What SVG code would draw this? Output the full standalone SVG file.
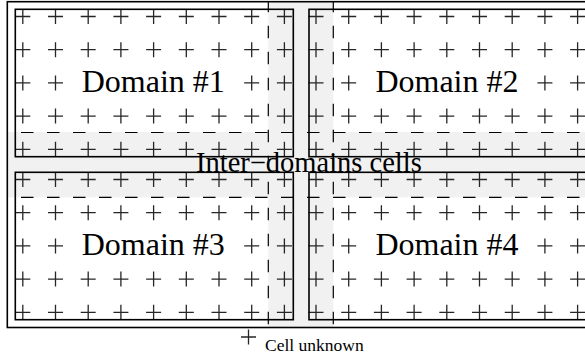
<svg xmlns="http://www.w3.org/2000/svg" xmlns:xlink="http://www.w3.org/1999/xlink" width="585" height="356" viewBox="0 0 585 356">
<style>
.band{fill:#f1f1f1;stroke:none}
.dash{stroke:#000;stroke-width:1.2;stroke-dasharray:12.5 13.5;fill:none}
.cr{stroke:#262626;stroke-width:1.3;fill:none}
.dom{fill:none;stroke:#000;stroke-width:1.6}
.big{font-family:"Liberation Serif","Times New Roman",serif;font-size:32px;fill:#000}
.mid{font-family:"Liberation Serif","Times New Roman",serif;font-size:28.5px;fill:#000}
.small{font-family:"Liberation Serif","Times New Roman",serif;font-size:17.5px;fill:#000}
</style>
<defs>
<path id="c" class="cr" d="M-7.5 0H7.5M0 -7.5V7.5"/>
<g id="row">
<use xlink:href="#c" href="#c" x="0"/><use xlink:href="#c" href="#c" x="32.7"/><use xlink:href="#c" href="#c" x="65.4"/><use xlink:href="#c" href="#c" x="98.1"/><use xlink:href="#c" href="#c" x="130.8"/><use xlink:href="#c" href="#c" x="163.5"/><use xlink:href="#c" href="#c" x="196.2"/><use xlink:href="#c" href="#c" x="228.9"/><use xlink:href="#c" href="#c" x="261.6"/>
</g>
<g id="rowt">
<use xlink:href="#c" href="#c" x="0"/><use xlink:href="#c" href="#c" x="32.7"/><use xlink:href="#c" href="#c" x="228.9"/><use xlink:href="#c" href="#c" x="261.6"/>
</g>
</defs>
<rect width="585" height="356" fill="#fff"/>
<g id="inter-domains">
<rect class="band" x="268.3" y="1.7" width="65" height="325.8"/>
<rect class="band" x="7.3" y="132" width="580" height="65.3"/>
<line class="dash" x1="7.3" y1="132.5" x2="585" y2="132.5" stroke-dashoffset="12.3"/>
<line class="dash" x1="7.3" y1="197.3" x2="585" y2="197.3" stroke-dashoffset="12.3"/>
<line class="dash" x1="268.3" y1="1.7" x2="268.3" y2="327.5" stroke-dashoffset="2"/>
<line class="dash" x1="333.3" y1="1.7" x2="333.3" y2="327.5" stroke-dashoffset="2"/>
</g>
<g id="domain1">
<use xlink:href="#row" href="#row" x="22.8" y="16.5"/>
<use xlink:href="#row" href="#row" x="22.8" y="49.7"/>
<use xlink:href="#rowt" href="#rowt" x="22.8" y="82.9"/>
<use xlink:href="#row" href="#row" x="22.8" y="116.1"/>
<use xlink:href="#row" href="#row" x="22.8" y="149.3"/>
<rect class="dom" x="15.3" y="9.3" width="278" height="147.4"/>
<text class="big" x="81.7" y="92">Domain #1</text>
</g>
<g id="domain2">
<use xlink:href="#row" href="#row" x="316" y="16.5"/>
<use xlink:href="#row" href="#row" x="316" y="49.7"/>
<use xlink:href="#rowt" href="#rowt" x="316" y="82.9"/>
<use xlink:href="#row" href="#row" x="316" y="116.1"/>
<use xlink:href="#row" href="#row" x="316" y="149.3"/>
<rect class="dom" x="309" y="9.3" width="278" height="147.4"/>
<text class="big" x="375.4" y="92">Domain #2</text>
</g>
<g id="domain3">
<use xlink:href="#row" href="#row" x="22.8" y="179.5"/>
<use xlink:href="#row" href="#row" x="22.8" y="212.7"/>
<use xlink:href="#rowt" href="#rowt" x="22.8" y="245.9"/>
<use xlink:href="#row" href="#row" x="22.8" y="279.1"/>
<use xlink:href="#row" href="#row" x="22.8" y="312.3"/>
<rect class="dom" x="15.3" y="172.3" width="278" height="147.4"/>
<text class="big" x="81.7" y="255">Domain #3</text>
</g>
<g id="domain4">
<use xlink:href="#row" href="#row" x="316" y="179.5"/>
<use xlink:href="#row" href="#row" x="316" y="212.7"/>
<use xlink:href="#rowt" href="#rowt" x="316" y="245.9"/>
<use xlink:href="#row" href="#row" x="316" y="279.1"/>
<use xlink:href="#row" href="#row" x="316" y="312.3"/>
<rect class="dom" x="309" y="172.3" width="278" height="147.4"/>
<text class="big" x="375.4" y="255">Domain #4</text>
</g>
<g id="frame">
<rect class="dom" x="7.3" y="1.7" width="590" height="325.8"/>
</g>
<g id="connectors"></g>
<g id="label-inter">
<text class="mid" x="196" y="172">Inter−domains cells</text>
</g>
<g id="legend">
<use xlink:href="#c" href="#c" x="248.5" y="337"/>
<text class="small" x="265" y="351">Cell unknown</text>
</g>
</svg>
